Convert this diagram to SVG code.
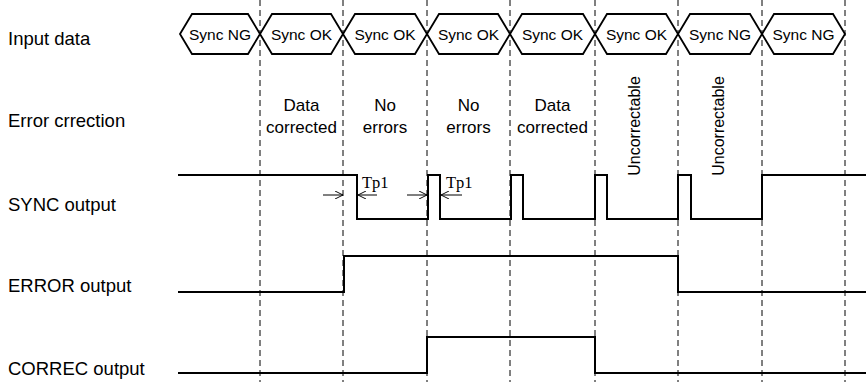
<svg xmlns="http://www.w3.org/2000/svg" width="866" height="382" viewBox="0 0 866 382">
<style>
.lbl{font-family:"Liberation Sans",Arial,sans-serif;font-size:18.5px;fill:#000}
.hx{fill:#fff;stroke:#000;stroke-width:1.8;stroke-linejoin:miter}
.ht{font-family:"Liberation Sans",Arial,sans-serif;font-size:15.5px;fill:#000;text-anchor:middle}
.et{font-family:"Liberation Sans",Arial,sans-serif;font-size:17px;fill:#000;text-anchor:middle}
.ut{font-family:"Liberation Sans",Arial,sans-serif;font-size:16px;fill:#000;text-anchor:middle}
.dash{stroke:#000;stroke-width:1;stroke-dasharray:6 4;fill:none}
.wave{fill:none;stroke:#000;stroke-width:2}
.arr{stroke:#000;stroke-width:1;fill:none;marker-end:url(#ah)}
.tp{font-family:"Liberation Serif","Times New Roman",serif;font-size:16.5px;fill:#000}
</style>
<defs>
<marker id="ah" viewBox="0 0 10 10" refX="10" refY="5" markerWidth="8" markerHeight="8" markerUnits="userSpaceOnUse" orient="auto">
<path d="M0,0 L10,5 L0,10" fill="none" stroke="#000" stroke-width="1.2"/>
</marker>
</defs>
<rect width="866" height="382" fill="#fff"/>
<g id="grid">
<line class="dash" x1="260" y1="0" x2="260" y2="382"/>
<line class="dash" x1="343" y1="0" x2="343" y2="382"/>
<line class="dash" x1="427" y1="0" x2="427" y2="382"/>
<line class="dash" x1="510" y1="0" x2="510" y2="382"/>
<line class="dash" x1="595" y1="0" x2="595" y2="382"/>
<line class="dash" x1="678" y1="0" x2="678" y2="382"/>
<line class="dash" x1="762" y1="0" x2="762" y2="382"/>
<line class="dash" x1="845" y1="0" x2="845" y2="382"/>
</g>
<g id="labels">
<text class="lbl" x="8" y="45">Input data</text>
<text class="lbl" x="8" y="127">Error crrection</text>
<text class="lbl" x="8" y="211">SYNC output</text>
<text class="lbl" x="8" y="292">ERROR output</text>
<text class="lbl" x="8" y="375">CORREC output</text>
</g>
<g id="input-data">
<g id="d1"><polygon class="hx" points="180,34 192,14 248,14 260,34 248,54 192,54"/><text class="ht" x="220" y="40">Sync NG</text></g>
<g id="d2"><polygon class="hx" points="260,34 272,14 331,14 343,34 331,54 272,54"/><text class="ht" x="301.5" y="40">Sync OK</text></g>
<g id="d3"><polygon class="hx" points="343,34 355,14 415,14 427,34 415,54 355,54"/><text class="ht" x="385" y="40">Sync OK</text></g>
<g id="d4"><polygon class="hx" points="427,34 439,14 498,14 510,34 498,54 439,54"/><text class="ht" x="468.5" y="40">Sync OK</text></g>
<g id="d5"><polygon class="hx" points="510,34 522,14 583,14 595,34 583,54 522,54"/><text class="ht" x="552.5" y="40">Sync OK</text></g>
<g id="d6"><polygon class="hx" points="595,34 607,14 666,14 678,34 666,54 607,54"/><text class="ht" x="636.5" y="40">Sync OK</text></g>
<g id="d7"><polygon class="hx" points="678,34 690,14 750,14 762,34 750,54 690,54"/><text class="ht" x="720" y="40">Sync NG</text></g>
<g id="d8"><polygon class="hx" points="762,34 774,14 833,14 845,34 833,54 774,54"/><text class="ht" x="803.5" y="40">Sync NG</text></g>
</g>
<g id="error-correction">
<text class="et" x="301.5" y="111">Data</text><text class="et" x="301.5" y="133">corrected</text>
<text class="et" x="385" y="111">No</text><text class="et" x="385" y="133">errors</text>
<text class="et" x="468.5" y="111">No</text><text class="et" x="468.5" y="133">errors</text>
<text class="et" x="552.5" y="111">Data</text><text class="et" x="552.5" y="133">corrected</text>
<text class="ut" transform="translate(640,126) rotate(-90)">Uncorrectable</text>
<text class="ut" transform="translate(724,126) rotate(-90)">Uncorrectable</text>
</g>
<g id="sync-output">
<path class="wave" d="M178,175 H357 V219 H428 V175 H440 V219 H511 V175 H523 V219 H595 V175 H607 V219 H678 V175 H691 V219 H762 V175 H866"/>
</g>
<g id="error-output">
<path class="wave" d="M178,292 H344 V256 H678 V292 H866"/>
</g>
<g id="correc-output">
<path class="wave" d="M178,373 H427 V337 H595 V373 H866"/>
</g>
<g id="connectors">
<line class="arr" x1="323" y1="195" x2="343" y2="195"/>
<line class="arr" x1="377" y1="195" x2="358" y2="195"/>
<line class="arr" x1="407" y1="195" x2="427" y2="195"/>
<line class="arr" x1="462" y1="195" x2="441" y2="195"/>
</g>
<g id="tp-labels">
<text class="tp" x="362" y="188">Tp1</text>
<text class="tp" x="446" y="188">Tp1</text>
</g>
</svg>
